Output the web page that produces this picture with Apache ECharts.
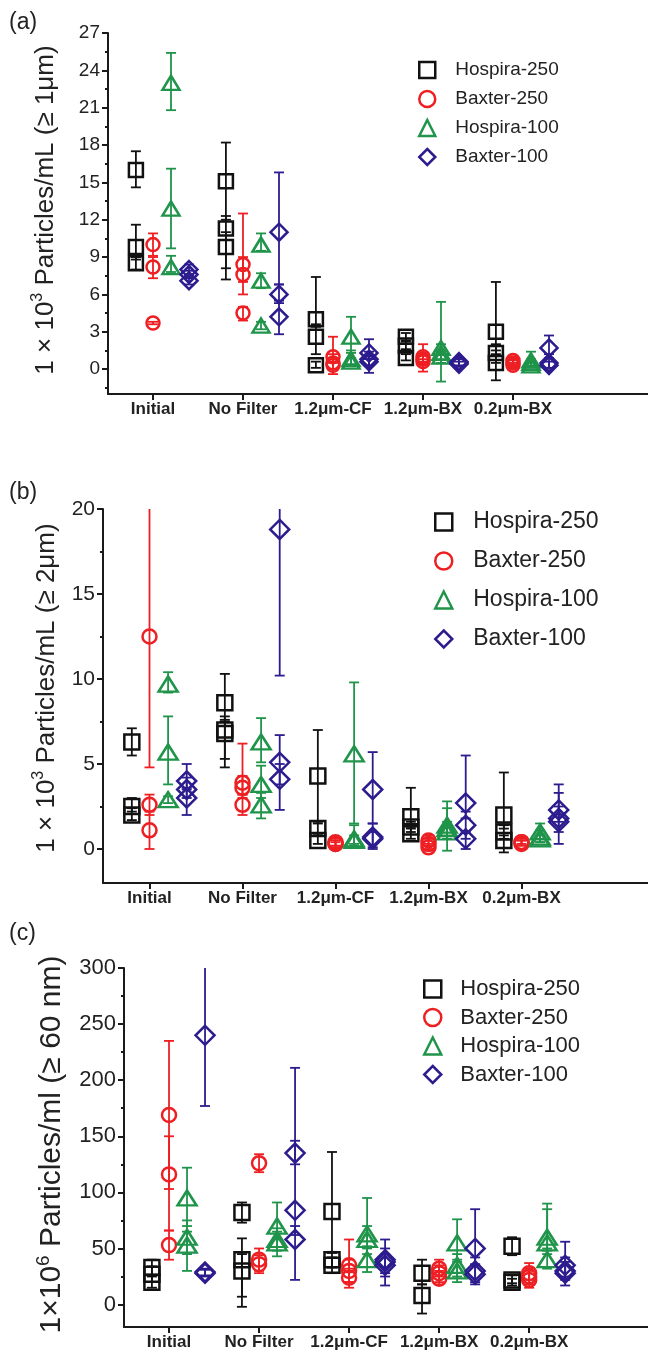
<!DOCTYPE html>
<html><head><meta charset="utf-8">
<script src="https://cdn.jsdelivr.net/npm/echarts@6/dist/echarts.min.js"></script>
<style>html,body{margin:0;padding:0;background:#fff}#c{width:648px;height:1355px}</style>
</head><body><div id="c"></div>
<script>
// ---------- data ----------
const categories = ['Initial', 'No Filter', '1.2\u03bcm-CF', '1.2\u03bcm-BX', '0.2\u03bcm-BX'];
const seriesNames = ['Hospira-250', 'Baxter-250', 'Hospira-100', 'Baxter-100'];
const panelLabels = ['(a)', '(b)', '(c)'];

const ticksA = [0, 3, 6, 9, 12, 15, 18, 21, 24, 27];
const minorA = [-1.5, 1.5, 4.5, 7.5, 10.5, 13.5, 16.5, 19.5, 22.5, 25.5];
const ticksB = [0, 5, 10, 15, 20];
const minorB = [2.5, 7.5, 12.5, 17.5];
const ticksC = [0, 50, 100, 150, 200, 250, 300];
const minorC = [25, 75, 125, 175, 225, 275];

// each category: replicate points as [mean, errLow, errHigh]
// Panel (a): x10^3 particles/mL (>= 1 um)
const a_hospira250 = [
  [[16.0, 14.6, 17.5], [9.8, 8.8, 11.6], [8.5, 8.0, 9.0]],
  [[15.1, 12.0, 18.2], [11.3, 8.1, 12.3], [9.8, 7.2, 11.0]],
  [[4.0, 3.4, 7.4], [2.6, 1.2, 3.6], [0.3, 0.1, 0.6]],
  [[2.6, 2.3, 2.9], [1.9, 1.6, 2.2], [0.9, 0.7, 1.2]],
  [[3.0, 1.2, 7.0], [1.3, 0.5, 2.0], [0.5, -0.9, 1.5]]
];
const a_baxter250 = [
  [[10.0, 9.1, 10.9], [8.2, 7.3, 9.0], [3.7, 3.6, 3.8]],
  [[8.4, 7.0, 12.5], [7.6, 6.0, 9.0], [4.5, 3.9, 5.0]],
  [[1.0, 0.5, 2.6], [0.5, -0.4, 1.2], [0.3, 0.0, 0.6]],
  [[1.0, 0.6, 2.0], [0.8, -0.2, 1.2], [0.6, 0.4, 0.8]],
  [[0.7, 0.4, 1.0], [0.5, 0.3, 0.7], [0.3, 0.1, 0.5]]
];
const a_hospira100 = [
  [[23.0, 20.8, 25.4], [12.9, 9.7, 16.1], [8.2, 7.8, 9.1]],
  [[10.0, 9.5, 10.9], [7.1, 6.5, 7.7], [3.5, 3.2, 3.8]],
  [[2.6, 1.5, 4.2], [0.8, 0.4, 1.3], [0.6, 0.3, 0.9]],
  [[1.7, -1.0, 5.4], [1.3, 0.8, 2.0], [1.0, 0.5, 1.5]],
  [[0.7, 0.3, 1.4], [0.5, 0.2, 0.8], [0.3, 0.1, 0.5]]
];
const a_baxter100 = [
  [[8.0, 7.6, 8.4], [7.6, 7.3, 7.9], [7.1, 6.8, 7.4]],
  [[11.0, 6.8, 15.8], [6.0, 5.3, 6.8], [4.2, 2.8, 5.5]],
  [[1.3, 0.8, 2.4], [0.8, 0.3, 1.4], [0.6, -0.3, 1.0]],
  [[0.6, 0.3, 0.9], [0.5, 0.2, 0.8], [0.4, 0.2, 0.6]],
  [[1.7, 1.2, 2.7], [0.5, 0.1, 0.9], [0.3, 0.1, 0.6]]
];

// Panel (b): x10^3 particles/mL (>= 2 um)
const b_hospira250 = [
  [[6.3, 5.5, 7.1], [2.5, 2.2, 3.0], [2.0, 1.7, 2.4]],
  [[8.6, 7.6, 10.3], [7.0, 5.3, 7.8], [6.8, 4.8, 7.5]],
  [[4.3, 1.5, 7.0], [1.2, 0.8, 1.6], [0.5, 0.3, 0.8]],
  [[1.9, 1.3, 3.6], [1.3, 1.0, 1.6], [0.9, 0.6, 1.2]],
  [[2.0, 1.2, 4.5], [1.0, 0.6, 1.4], [0.5, -0.2, 0.8]]
];
const b_baxter250 = [
  [[12.5, 4.8, 21.0], [2.6, 2.0, 3.2], [1.1, 0.0, 2.2]],
  [[3.9, 3.2, 6.2], [3.6, 3.0, 4.3], [2.6, 2.0, 3.2]],
  [[0.4, 0.2, 0.6], [0.3, 0.1, 0.5], [0.3, 0.1, 0.4]],
  [[0.5, 0.2, 0.8], [0.3, 0.0, 0.6], [0.1, -0.1, 0.3]],
  [[0.4, 0.2, 0.6], [0.4, 0.3, 0.5], [0.3, 0.2, 0.5]]
];
const b_hospira100 = [
  [[9.7, 9.2, 10.4], [5.7, 3.8, 7.8], [2.9, 2.7, 3.1]],
  [[6.3, 5.1, 7.7], [3.8, 3.0, 4.9], [2.6, 1.8, 3.3]],
  [[5.6, 1.5, 9.8], [0.6, 0.3, 1.4], [0.5, 0.2, 0.8]],
  [[1.4, -0.1, 2.8], [1.2, 0.8, 2.4], [1.0, 0.6, 1.6]],
  [[1.0, 0.6, 1.5], [0.7, 0.4, 1.1], [0.6, 0.4, 0.8]]
];
const b_baxter100 = [
  [[4.0, 3.5, 5.0], [3.5, 3.0, 4.2], [3.0, 2.0, 3.6]],
  [[18.8, 10.2, 21.0], [5.1, 3.8, 6.7], [4.1, 2.3, 5.0]],
  [[3.5, 1.5, 5.7], [0.7, 0.0, 1.5], [0.6, 0.1, 1.0]],
  [[2.7, 1.8, 5.5], [1.4, 0.6, 2.2], [0.6, 0.0, 1.0]],
  [[2.3, 1.6, 3.8], [1.8, 1.0, 3.3], [1.6, 0.3, 2.5]]
];

// Panel (c): x10^6 particles/ml (>= 60 nm)
const c_hospira250 = [
  [[33, 26, 40], [27, 20, 34], [20, 15, 25]],
  [[82, 73, 91], [40, 7, 59], [30, -2, 45]],
  [[83, 46, 136], [40, 33, 47], [35, 28, 42]],
  [[28, 18, 40], [8, -8, 18]],
  [[52, 44, 60], [22, 19, 26], [20, 17, 23]]
];
const c_baxter250 = [
  [[169, 103, 235], [116, 66, 150], [53, 40, 66]],
  [[126, 118, 134], [40, 28, 50], [36, 30, 44]],
  [[35, 20, 58], [30, 20, 40], [24, 15, 32]],
  [[32, 25, 40], [28, 20, 35], [23, 18, 30]],
  [[28, 22, 37], [25, 18, 32], [22, 15, 30]]
];
const c_hospira100 = [
  [[95, 70, 122], [60, 45, 75], [53, 30, 65]],
  [[70, 58, 91], [58, 48, 68], [55, 43, 65]],
  [[63, 52, 95], [58, 45, 70], [40, 29, 50]],
  [[55, 38, 76], [35, 25, 45], [30, 20, 40]],
  [[60, 48, 90], [55, 45, 85], [40, 32, 50]]
];
const c_baxter100 = [
  [[240, 177, 305], [29, 26, 32], [28, 25, 31]],
  [[135, 125, 211], [84, 62, 146], [58, 22, 70]],
  [[40, 28, 58], [38, 25, 50], [35, 17, 45]],
  [[50, 36, 85], [30, 20, 42], [27, 18, 35]],
  [[35, 25, 56], [30, 22, 42], [28, 17, 38]]
];

// ---------- styling / layout ----------
const FONT = 'Liberation Sans, Arial, Helvetica, sans-serif';
const COLORS = ['#111111', '#ee1f23', '#1f944a', '#2c1c8e'];
const SYMBOLS = ['rect', 'circle', 'triangle', 'diamond'];
const OFFSETS = [-0.19, 0, 0.2, 0.4];

const panels = [
  { data: [a_hospira250, a_baxter250, a_hospira100, a_baxter100],
    grid: { left: 108, top: 33, width: 540, height: 361 },
    xMax: 6.5, yMin: -2, yMax: 27, ticks: ticksA, minor: minorA,
    name: '{t|1 \u00d7 10}{s|3}{t| Particles/mL (\u2265 1\u03bcm)}', nameGap: 46, nameSize: 26, namePad: 7,
    tickFont: 19, scale: 1.0,
    legend: { left: 413, top: 55, icon: 16, textPad: 15, fontSize: 19, lineHeight: 20, gap: 9 },
    label: { left: 4, top: 6, size: 23 } },
  { data: [b_hospira250, b_baxter250, b_hospira100, b_baxter100],
    grid: { left: 103, top: 509, width: 545, height: 374 },
    xMax: 6.36, yMin: -2, yMax: 20, ticks: ticksB, minor: minorB,
    name: '{t|1 \u00d7 10}{s|3}{t| Particles/mL (\u2265 2\u03bcm)}', nameGap: 40, nameSize: 26, namePad: 16,
    tickFont: 21, scale: 1.1,
    legend: { left: 429, top: 504, icon: 17, textPad: 16, fontSize: 23, lineHeight: 26, gap: 13 },
    label: { left: 4, top: 476, size: 23 } },
  { data: [c_hospira250, c_baxter250, c_hospira100, c_baxter100],
    grid: { left: 124, top: 968, width: 524, height: 359 },
    xMax: 6.32, yMin: -20, yMax: 300, ticks: ticksC, minor: minorC,
    name: '{t|1\u00d710}{s|6}{t| Particles/ml (\u2265 60 nm)}', nameGap: 54, nameSize: 30, namePad: 6,
    tickFont: 22, scale: 1.1,
    legend: { left: 418, top: 972, icon: 17, textPad: 14, fontSize: 22, lineHeight: 24, gap: 4.5 },
    label: { left: 4, top: 917, size: 23 } }
];

const AXIS_COLOR = '#1a1a1a';

function renderErr(params, api) {
  const x = api.value(0), lo = api.value(1), hi = api.value(2);
  const p1 = api.coord([x, hi]);
  const p2 = api.coord([x, lo]);
  const w = 5;
  const st = { stroke: api.visual('color'), lineWidth: 1.8 };
  return {
    type: 'group',
    children: [
      { type: 'line', shape: { x1: p1[0], y1: p1[1], x2: p2[0], y2: p2[1] }, style: st },
      { type: 'line', shape: { x1: p1[0] - w, y1: p1[1], x2: p1[0] + w, y2: p1[1] }, style: st },
      { type: 'line', shape: { x1: p2[0] - w, y1: p2[1], x2: p2[0] + w, y2: p2[1] }, style: st }
    ]
  };
}

const option = {
  animation: false,
  backgroundColor: '#fff',
  textStyle: { fontFamily: FONT },
  title: [], grid: [], xAxis: [], yAxis: [], legend: [], series: []
};

const errSeries = [];
panels.forEach((p, pi) => {
  option.title.push({ text: panelLabels[pi], left: p.label.left, top: p.label.top,
    textStyle: { fontSize: p.label.size, fontWeight: 'normal', color: '#222', fontFamily: FONT } });
  option.grid.push(Object.assign({ containLabel: false }, p.grid));
  option.xAxis.push({
    type: 'value', gridIndex: pi, min: 0.5, max: p.xMax,
    splitLine: { show: false },
    axisLine: { show: true, onZero: false, lineStyle: { color: AXIS_COLOR, width: 2 } },
    axisTick: { show: true, customValues: [1, 2, 3, 4, 5], length: 6, lineStyle: { color: AXIS_COLOR, width: 2 } },
    axisLabel: { show: true, customValues: [1, 2, 3, 4, 5], margin: 7,
      formatter: v => categories[Math.round(v) - 1] || '',
      fontSize: 17, fontWeight: 'bold', color: '#222', fontFamily: FONT }
  });
  const supSize = Math.round(p.nameSize * 0.62);
  option.yAxis.push({
    type: 'value', gridIndex: pi, min: p.yMin, max: p.yMax, position: 'left',
    splitLine: { show: false },
    axisLine: { show: true, onZero: false, lineStyle: { color: AXIS_COLOR, width: 2 } },
    axisTick: { show: true, customValues: p.ticks, length: 6, lineStyle: { color: AXIS_COLOR, width: 2 } },
    axisLabel: { show: true, customValues: p.ticks, margin: 8, fontSize: p.tickFont, color: '#222', fontFamily: FONT },
    name: p.name, nameLocation: 'middle', nameGap: p.nameGap,
    nameTextStyle: {
      fontFamily: FONT, color: '#222', padding: [0, 0, 0, p.namePad],
      rich: {
        t: { fontSize: p.nameSize, lineHeight: p.nameSize + 6, color: '#222', fontFamily: FONT },
        s: { fontSize: supSize, lineHeight: supSize, verticalAlign: 'top', color: '#222', fontFamily: FONT }
      }
    }
  });
  option.yAxis.push({
    type: 'value', gridIndex: pi, min: p.yMin, max: p.yMax, position: 'left',
    splitLine: { show: false },
    axisLine: { show: false, onZero: false },
    axisTick: { show: true, customValues: p.minor, length: 3, lineStyle: { color: AXIS_COLOR, width: 2 } },
    axisLabel: { show: false }
  });
  option.legend.push({
    orient: 'vertical', left: p.legend.left, top: p.legend.top,
    itemWidth: p.legend.icon, itemHeight: p.legend.icon,
    itemGap: p.legend.gap,
    data: seriesNames,
    itemStyle: { borderWidth: 2.5 },
    textStyle: { fontSize: p.legend.fontSize, lineHeight: p.legend.lineHeight, color: '#222', fontFamily: FONT,
      padding: [0, 0, 0, p.legend.textPad] }
  });

  p.data.forEach((cats, si) => {
    const pts = [], errs = [];
    cats.forEach((reps, ci) => {
      reps.forEach(r => {
        pts.push([ci + 1 + OFFSETS[si], r[0]]);
        errs.push([ci + 1 + OFFSETS[si], r[1], r[2]]);
      });
    });
    const sz = p.scale;
    const symSize = [Math.round(14 * sz), Math.round(13 * sz), [Math.round(17 * sz), Math.round(14 * sz)], Math.round(17 * sz)][si];
    option.series.push({
      type: 'scatter', name: seriesNames[si], xAxisIndex: pi, yAxisIndex: pi * 2,
      symbol: SYMBOLS[si], symbolSize: symSize, z: 3,
      itemStyle: { color: 'rgba(255,255,255,0)', borderColor: COLORS[si], borderWidth: 2.5, opacity: 1 },
      emphasis: { disabled: true },
      data: pts
    });
    errSeries.push({
      type: 'custom', name: seriesNames[si], xAxisIndex: pi, yAxisIndex: pi * 2,
      renderItem: renderErr, clip: true, z: 2,
      itemStyle: { color: COLORS[si] },
      encode: { x: 0, y: [1, 2] },
      data: errs
    });
  });
});
option.series = option.series.concat(errSeries);

const chart = echarts.init(document.getElementById('c'), null, { renderer: 'canvas', width: 648, height: 1355 });
chart.setOption(option);
</script>
</body></html>
